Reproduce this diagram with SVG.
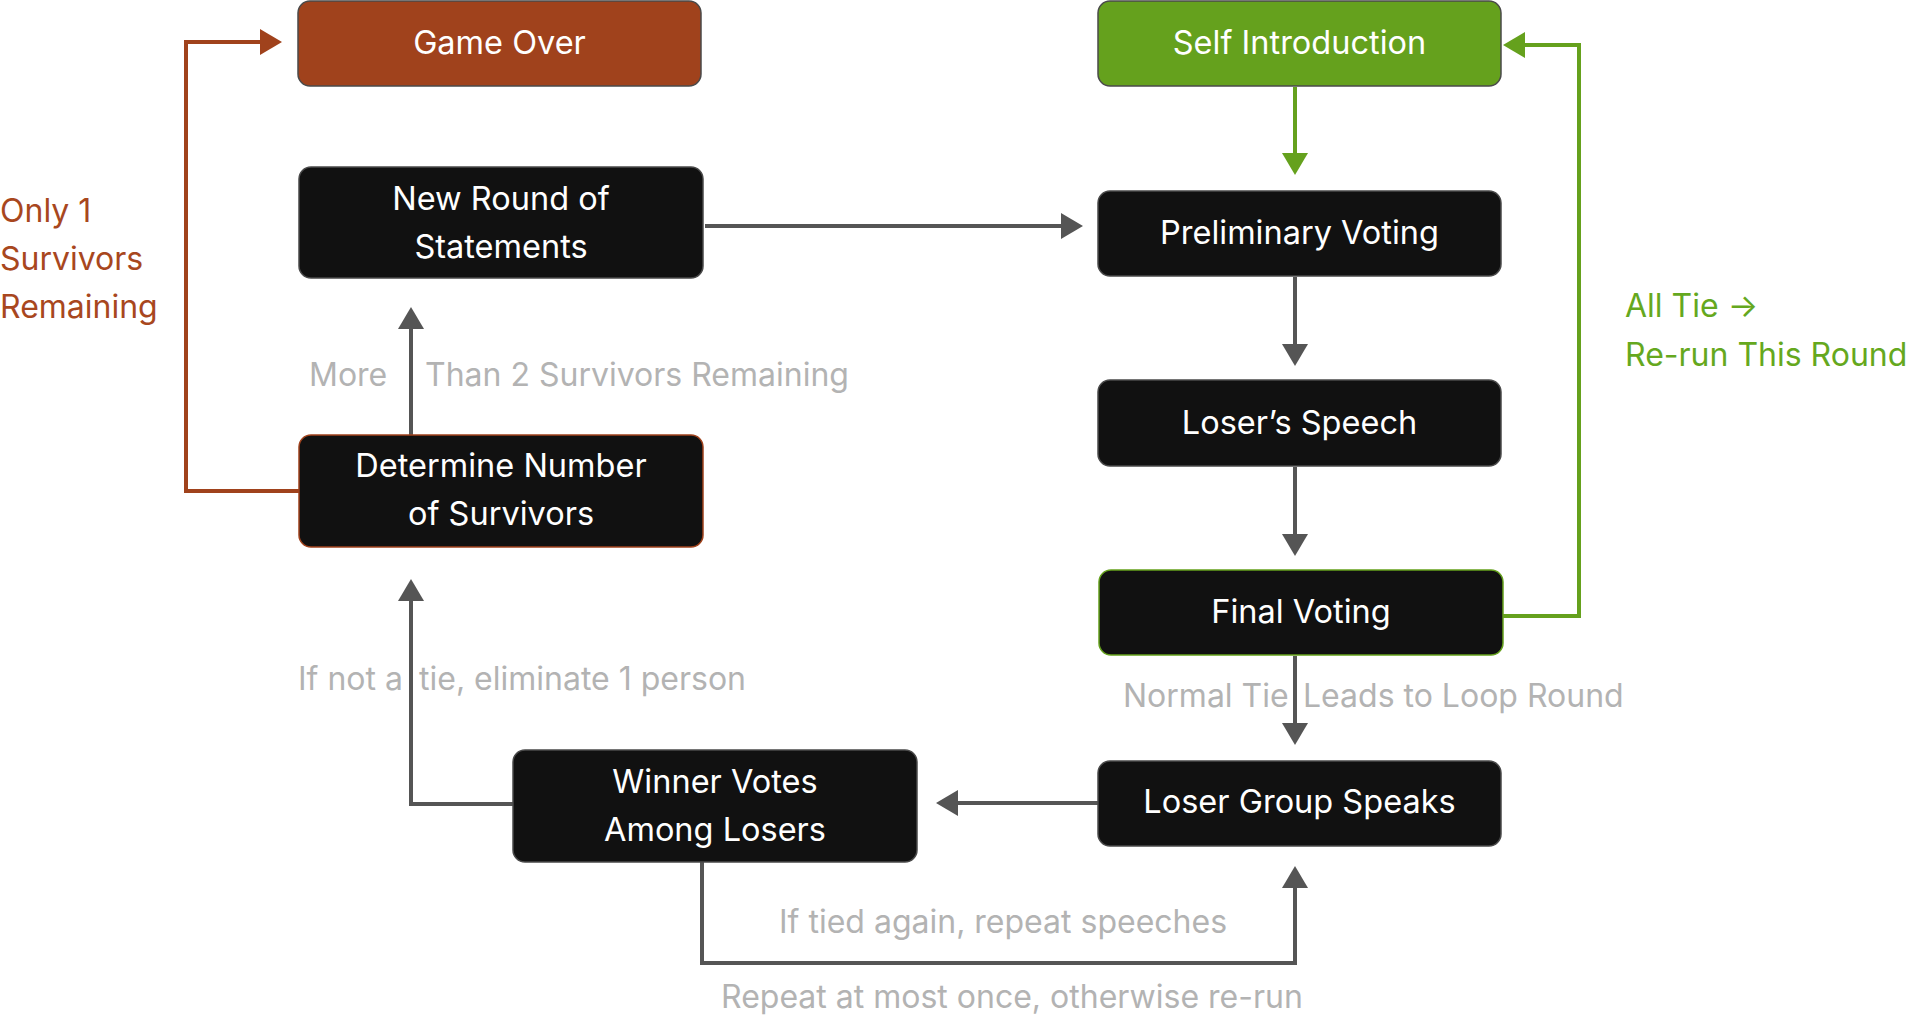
<svg xmlns="http://www.w3.org/2000/svg" width="1906" height="1024" viewBox="0 0 1906 1024">
<style>
  .node rect { fill: #111111; stroke: #4a4a4a; stroke-width: 1.5; }
  .node text { font-family: Inter, "Noto Sans", sans-serif; font-size: 32.5px; fill: #ffffff; text-anchor: middle; }
  .conn { fill: none; stroke: #555555; stroke-width: 4; }
  .conn.green { stroke: #65A11D; }
  .conn.orange { stroke: #A0421C; }
  .lbl { font-family: Inter, "Noto Sans", sans-serif; font-size: 32px; fill: #b3b3b3; }
  .lbl.green { fill: #65A81E; }
  .lbl.orange { fill: #A8471E; }
</style>
<defs>
  <marker id="ah" markerUnits="userSpaceOnUse" markerWidth="22" markerHeight="26" refX="12" refY="13" orient="auto">
    <path d="M0,0 L22,13 L0,26 z" fill="#555555"/>
  </marker>
  <marker id="ahg" markerUnits="userSpaceOnUse" markerWidth="22" markerHeight="26" refX="12" refY="13" orient="auto">
    <path d="M0,0 L22,13 L0,26 z" fill="#65A11D"/>
  </marker>
  <marker id="aho" markerUnits="userSpaceOnUse" markerWidth="22" markerHeight="26" refX="12" refY="13" orient="auto">
    <path d="M0,0 L22,13 L0,26 z" fill="#A0421C"/>
  </marker>
</defs>
<rect width="1906" height="1024" fill="#ffffff"/>

<g id="connectors">
  <path class="conn green" d="M1295,87 V165" marker-end="url(#ahg)"/>
  <path class="conn" d="M705,226 H1073" marker-end="url(#ah)"/>
  <path class="conn" d="M1295,277 V356" marker-end="url(#ah)"/>
  <path class="conn" d="M1295,467 V546" marker-end="url(#ah)"/>
  <path class="conn" d="M1295,656 V735" marker-end="url(#ah)"/>
  <path class="conn green" d="M1503,616 H1579 V45 H1513" marker-end="url(#ahg)"/>
  <path class="conn" d="M1098,803 H946" marker-end="url(#ah)"/>
  <path class="conn" d="M513,804 H411 V589" marker-end="url(#ah)"/>
  <path class="conn" d="M411,435 V317" marker-end="url(#ah)"/>
  <path class="conn orange" d="M299,491 H186 V42 H272" marker-end="url(#aho)"/>
  <path class="conn" d="M702,862 V963 H1295 V876" marker-end="url(#ah)"/>
</g>

<g id="labels">
  <text class="lbl orange" x="0" y="222">Only 1</text>
  <text class="lbl orange" x="0" y="270">Survivors</text>
  <text class="lbl orange" x="0" y="318">Remaining</text>
  <text class="lbl green" x="1625" y="317">All Tie →</text>
  <text class="lbl green" x="1625" y="366">Re-run This Round</text>
  <text class="lbl" y="386"><tspan x="309">More</tspan><tspan x="425">Than 2 Survivors Remaining</tspan></text>
  <text class="lbl" y="690"><tspan x="298">If not a</tspan><tspan x="419">tie, eliminate 1 person</tspan></text>
  <text class="lbl" y="707"><tspan x="1123">Normal Tie</tspan><tspan x="1303">Leads to Loop Round</tspan></text>
  <text class="lbl" x="779" y="933">If tied again, repeat speeches</text>
  <text class="lbl" x="721" y="1008">Repeat at most once, otherwise re-run</text>
</g>

<g id="game-over" class="node">
  <rect x="298" y="1" width="403" height="85" rx="12" style="fill:#A0421C"/>
  <text x="499.5" y="54">Game Over</text>
</g>
<g id="self-introduction" class="node">
  <rect x="1098" y="1" width="403" height="85" rx="12" style="fill:#65A11D"/>
  <text x="1299.5" y="54">Self Introduction</text>
</g>
<g id="new-round" class="node">
  <rect x="299" y="167" width="404" height="111" rx="12"/>
  <text x="501" y="210">New Round of</text>
  <text x="501" y="258">Statements</text>
</g>
<g id="preliminary-voting" class="node">
  <rect x="1098" y="191" width="403" height="85" rx="12"/>
  <text x="1299.5" y="244">Preliminary Voting</text>
</g>
<g id="losers-speech" class="node">
  <rect x="1098" y="380" width="403" height="86" rx="12"/>
  <text x="1299.5" y="434">Loser’s Speech</text>
</g>
<g id="final-voting" class="node">
  <rect x="1099" y="570" width="404" height="85" rx="12" style="stroke:#65A11D"/>
  <text x="1301" y="623">Final Voting</text>
</g>
<g id="loser-group-speaks" class="node">
  <rect x="1098" y="761" width="403" height="85" rx="12"/>
  <text x="1299.5" y="813">Loser Group Speaks</text>
</g>
<g id="winner-votes" class="node">
  <rect x="513" y="750" width="404" height="112" rx="12"/>
  <text x="715" y="793">Winner Votes</text>
  <text x="715" y="841">Among Losers</text>
</g>
<g id="determine-survivors" class="node">
  <rect x="299" y="435" width="404" height="112" rx="12" style="stroke:#A0421C"/>
  <text x="501" y="477">Determine Number</text>
  <text x="501" y="525">of Survivors</text>
</g>
</svg>
